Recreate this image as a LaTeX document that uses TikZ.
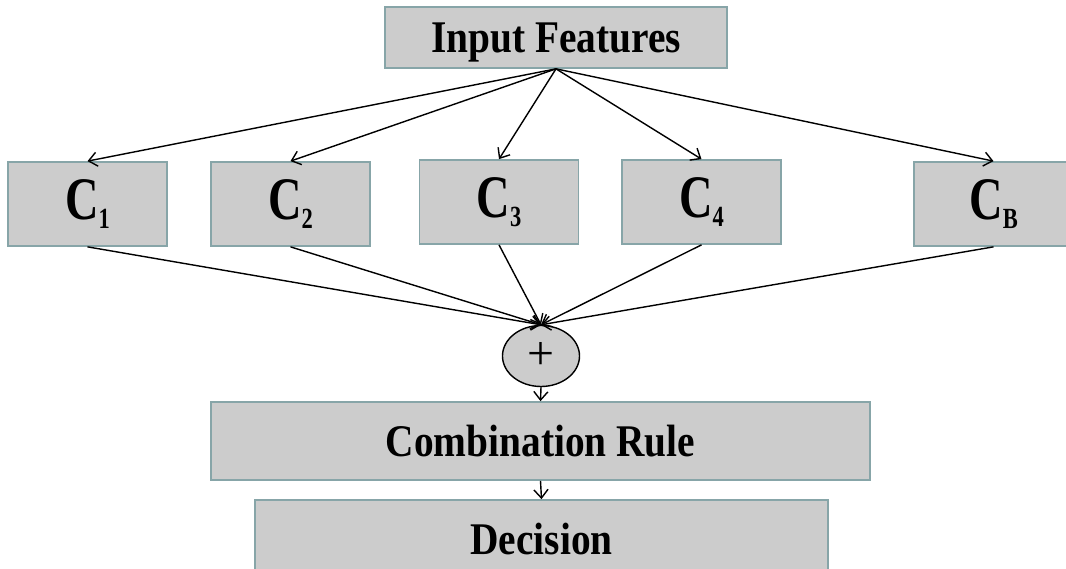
\documentclass[tikz,border=0pt]{standalone}
\usepackage{fontspec}
\setmainfont{Liberation Serif}
\usepackage{graphicx}
\usetikzlibrary{shapes.geometric, arrows.meta}
\definecolor{BoxGray}{RGB}{204,204,204}
\definecolor{BoxEdge}{RGB}{135,165,168}
% classifier label, tall C with lowered index
\newcommand{\clf}[1]{\scalebox{1}[1.3]{C\raisebox{-5pt}{\fontsize{16}{16}\selectfont #1}}}
% stretched title text
\newcommand{\ttl}[1]{\scalebox{1}[1.15]{#1}}

\begin{document}
\begin{tikzpicture}[x=0.025cm, y=-0.025cm,
    blk/.style={rectangle, draw=BoxEdge, line width=1.2pt, fill=BoxGray,
                inner sep=0pt, font=\fontsize{28}{30}\selectfont\bfseries},
    cls/.style={blk, minimum width=3.975cm, minimum height=2.1cm,
                font=\fontsize{33}{35}\selectfont\bfseries},
    arr/.style={-{Straight Barb[length=6pt, width=10pt]}, line width=1pt}
  ]
  \useasboundingbox (0,0) rectangle (1066,569);
  % input and combiner
  \node[blk, minimum width=8.55cm, minimum height=1.525cm, text depth=0pt] (inp)
        at (556,37.5) {\ttl{Input Features}};
  \node[ellipse, draw=black, line width=1pt, fill=BoxGray, minimum width=1.925cm,
        minimum height=1.525cm, inner sep=0pt, font=\fontsize{34}{36}\selectfont]
        (plus) at (541,356) {+};

  % classifiers
  \foreach \n/\x/\y in {1/87.5/204, 2/290.5/204, 3/499/202, 4/701.5/202, B/993.5/204} {
    \node[cls] (c\n) at (\x,\y) {\clf{\n}};
    \draw[arr] (inp.south) -- (c\n.north);
    \draw[arr] (c\n.south) -- (plus.north);
  }

  % rule and decision
  \node[blk, minimum width=16.475cm, minimum height=1.95cm] (comb) at (540.5,441)
        {\ttl{Combination Rule}};
  \node[blk, minimum width=14.325cm, minimum height=1.95cm] (dec) at (541.5,539)
        {\ttl{Decision}};
  \draw[arr] (plus.south) -- (comb.north);
  \draw[arr] (comb.south) -- (dec.north);
\end{tikzpicture}
\end{document}
